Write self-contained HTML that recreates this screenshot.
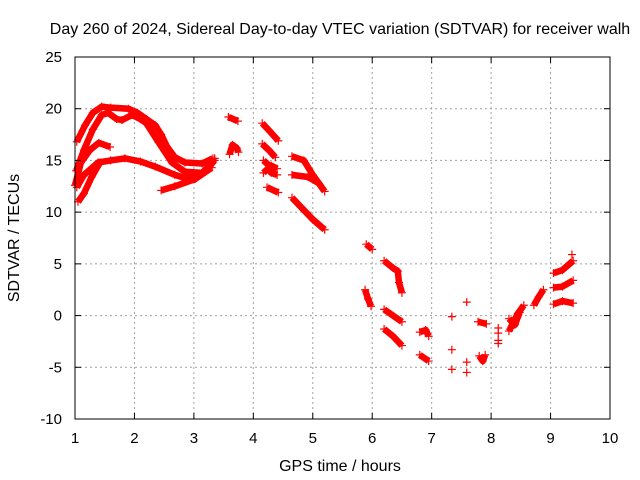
<!DOCTYPE html>
<html><head><meta charset="utf-8"><style>
body{margin:0;background:#fff}
svg{display:block;font-family:"Liberation Sans",sans-serif}
</style></head><body>
<svg id="chart" width="640" height="480" viewBox="0 0 640 480">
<rect width="640" height="480" fill="#fff"/>
<g id="grid"></g>
<g id="series"></g>
<rect x="75" y="57" width="535" height="362" fill="none" stroke="#000" stroke-width="1"/>
<g id="ticks"></g>
<text x="340" y="34" text-anchor="middle" font-size="16">Day 260 of 2024, Sidereal Day-to-day VTEC variation (SDTVAR) for receiver walh</text>
<text x="340" y="471" text-anchor="middle" font-size="16">GPS time / hours</text>
<text transform="translate(19,238) rotate(-90)" text-anchor="middle" font-size="16">SDTVAR / TECUs</text>
</svg>
<script>
const xTicks=[1,2,3,4,5,6,7,8,9,10];
const yTicks=[-10,-5,0,5,10,15,20,25];
// each segment: list of [hour, TECU]
const segUpper=[[1.03,16.8],[1.17,18.4],[1.3,19.6],[1.45,20.2],[1.6,20.1],[1.9,20.0],[2.05,19.6],[2.2,19.0],[2.35,18.4],[2.45,17.5],[2.55,16.3],[2.68,15.3],[2.85,14.8],[3.14,14.7],[3.32,15.2]];
const segInner=[[1.02,14.0],[1.15,16.0],[1.3,18.0],[1.45,19.4],[1.56,19.6],[1.7,19.0],[1.79,18.9],[1.96,19.4],[2.1,19.0],[2.2,18.6],[2.4,16.8],[2.63,14.8],[2.85,13.9],[3.14,13.8],[3.35,15.0]];
const segHump=[[1.0,12.6],[1.1,14.8],[1.25,16.0],[1.4,16.7],[1.59,16.3]];
const segMid=[[1.03,12.4],[1.15,13.6],[1.39,14.8],[1.6,15.0],[1.84,15.2],[2.1,14.9],[2.35,14.4],[2.68,13.6],[2.85,13.3],[3.05,13.4],[3.24,14.1],[3.35,15.2]];
const segLow=[[1.05,11.0],[1.15,11.8],[1.28,13.4],[1.42,14.8]];
const segLow2=[[2.45,12.1],[2.68,12.5],[3.02,13.2],[3.3,14.3]];
const segG=[[3.58,19.2],[3.74,18.8]];
const segH=[[3.6,15.6],[3.65,16.5],[3.72,16.2],[3.75,15.8]];
const segI=[[4.15,18.6],[4.28,17.8],[4.42,16.9]];
const segJ=[[4.15,16.6],[4.26,16.0],[4.37,15.3]];
const segK=[[4.17,15.0],[4.25,14.6],[4.3,13.8],[4.4,13.6]];
const segK2=[[4.17,13.8],[4.3,14.5],[4.4,14.2]];
const segL=[[4.23,12.4],[4.42,11.9]];
const segM=[[4.65,15.4],[4.85,15.0],[5.0,13.6],[5.2,12.0]];
const segN=[[4.65,13.6],[4.92,13.4],[5.1,12.8]];
const segO=[[4.65,11.4],[4.8,10.5],[5.0,9.3],[5.2,8.3]];
const segP=[[5.9,6.9],[6.0,6.4]];
const segQ=[[5.88,2.5],[5.93,1.6],[5.98,0.9]];
const segR=[[6.2,5.3],[6.35,4.6],[6.43,4.3],[6.45,3.2],[6.5,2.2]];
const segS=[[6.2,0.6],[6.5,-0.6]];
const segT=[[6.2,-1.3],[6.35,-2.0],[6.5,-2.9]];
const segU=[[6.8,-1.6],[6.9,-1.4],[6.95,-2.0]];
const segV=[[6.8,-3.8],[6.95,-4.4]];
const segX=[[7.78,-0.6],[7.92,-0.8]];
const segY=[[7.8,-3.9],[7.86,-4.4],[7.9,-3.8]];
const segAA=[[8.3,-1.5],[8.38,-0.6],[8.45,0.2],[8.55,1.0]];
const segAA2=[[8.3,-0.3],[8.4,-0.9],[8.48,0.3]];
const segAB=[[8.72,1.0],[8.8,1.8],[8.88,2.5]];
const segAC=[[9.05,4.1],[9.2,4.4],[9.38,5.3]];
const segAD=[[9.05,2.7],[9.2,2.8],[9.38,3.4]];
const segAE=[[9.05,1.1],[9.2,1.4],[9.38,1.2]];
const segments=[segUpper,segInner,segHump,segMid,segLow,segLow2,segG,segH,segI,segJ,segK,segK2,segL,segM,segN,segO,segP,segQ,segR,segS,segT,segU,segV,segX,segY,segAA,segAA2,segAB,segAC,segAD,segAE];
const singles=[[7.34,-0.1],[7.34,-3.3],[7.34,-5.2],[7.59,1.3],[7.59,-4.5],[7.59,-5.5],[8.12,-1.2],[8.12,-1.7],[8.12,-2.4],[8.12,-2.7],[9.36,5.9]];

const X0=75,X1=610,Y0=419,Y1=57;
const xs=t=>X0+(t-1)/9*(X1-X0);
const ys=v=>Y0-(v+10)/35*(Y0-Y1);
const NS='http://www.w3.org/2000/svg';
function mk(tag,attrs,parent){const e=document.createElementNS(NS,tag);for(const k in attrs)e.setAttribute(k,attrs[k]);parent.appendChild(e);return e;}
const grid=document.getElementById('grid'),ticks=document.getElementById('ticks'),ser=document.getElementById('series');
xTicks.forEach(t=>{const x=xs(t);
 if(t>1&&t<10){const g=mk('line',{x1:x,x2:x,y1:Y1,y2:Y0,stroke:'#a0a0a0','stroke-dasharray':'2,3'},grid);
 
 }
 mk('line',{x1:x,x2:x,y1:Y0,y2:Y0-6,stroke:'#000'},ticks);
 mk('line',{x1:x,x2:x,y1:Y1,y2:Y1+6,stroke:'#000'},ticks);
 const l=mk('text',{x:x,y:443,'text-anchor':'middle','font-size':'15'},ticks);l.textContent=t;
 
 });
yTicks.forEach(v=>{const y=ys(v);
 if(v>-10&&v<25){const g=mk('line',{x1:X0,x2:X1,y1:y,y2:y,stroke:'#a0a0a0','stroke-dasharray':'2,3'},grid);
 
 }
 mk('line',{x1:X0,x2:X0+6,y1:y,y2:y,stroke:'#000'},ticks);
 mk('line',{x1:X1,x2:X1-6,y1:y,y2:y,stroke:'#000'},ticks);
 const l=mk('text',{x:62,y:y+5,'text-anchor':'end','font-size':'15'},ticks);l.textContent=v;
 
 });
function plus(t,v,parent){const x=xs(t),y=ys(v);
 mk('path',{d:`M${x-4},${y}H${x+4}M${x},${y-4}V${y+4}`,stroke:'#f00','stroke-width':1.2,fill:'none'},parent);}
segments.forEach(seg=>{
 const p=mk('polyline',{points:seg.map(d=>xs(d[0])+','+ys(d[1])).join(' '),fill:'none',stroke:'#f00','stroke-width':6.5,'stroke-linejoin':'round','stroke-linecap':'butt'},ser);
 
 
 seg.forEach(d=>plus(d[0],d[1],ser));});
singles.forEach(d=>{const g=mk('g',{},ser);
 
 
 plus(d[0],d[1],g);});
</script>
</body></html>
